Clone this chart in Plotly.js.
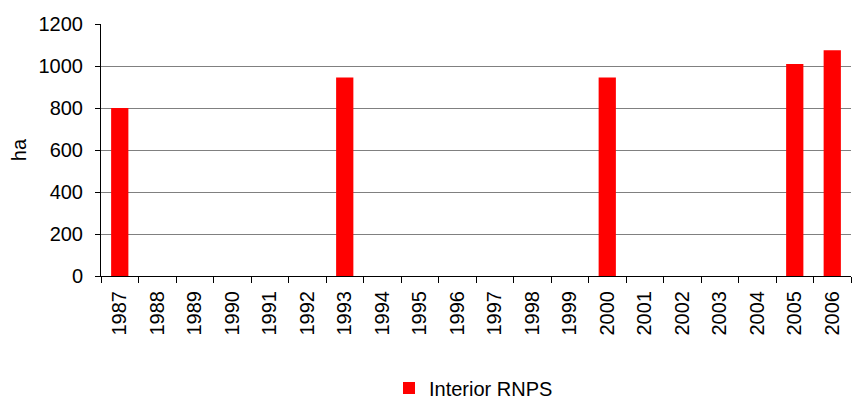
<!DOCTYPE html>
<html>
<head>
<meta charset="utf-8">
<script src="https://cdn.plot.ly/plotly-3.0.1.min.js"></script>
<style>html,body{margin:0;padding:0;background:#fff;}#chart{width:855px;height:400px;}</style>
</head>
<body>
<div id="chart"></div>
<script>
const years = ["1987","1988","1989","1990","1991","1992","1993","1994","1995","1996","1997","1998","1999","2000","2001","2002","2003","2004","2005","2006"];
const interiorRNPS = [800, null, null, null, null, null, 945, null, null, null, null, null, null, 945, null, null, null, null, 1010, 1075];
const yTicks = [0, 200, 400, 600, 800, 1000, 1200];
const seriesName = "Interior RNPS";

const trace = {
  type: "bar",
  x: years,
  y: interiorRNPS,
  name: seriesName,
  marker: {color: "#FF0000", line: {width: 0}},
  width: 0.46,
  showlegend: true
};

const layout = {
  width: 855,
  height: 400,
  margin: {l: 101, r: 4, t: 24, b: 124, autoexpand: false},
  paper_bgcolor: "#ffffff",
  plot_bgcolor: "#ffffff",
  font: {family: "Liberation Sans, Arial, sans-serif", size: 20, color: "#000000"},
  showlegend: true,
  legend: {
    orientation: "h",
    x: (389 - 101) / 750, xanchor: "left",
    y: -0.444, yanchor: "middle",
    font: {size: 20},
    bgcolor: "rgba(0,0,0,0)"
  },
  xaxis: {
    type: "category",
    automargin: false,
    tickangle: -90,
    ticks: "outside",
    tickson: "boundaries",
    ticklen: 6,
    tickcolor: "#000000",
    showline: true,
    linecolor: "#000000",
    linewidth: 1,
    showgrid: false,
    ticklabelstandoff: 6,
    tickfont: {size: 20}
  },
  yaxis: {
    automargin: false,
    range: [0, 1200],
    tickvals: yTicks,
    ticktext: yTicks.map(String),
    ticks: "outside",
    ticklen: 5,
    tickcolor: "#000000",
    showline: true,
    linecolor: "#000000",
    linewidth: 1,
    showgrid: true,
    gridcolor: "#808080",
    gridwidth: 1,
    zeroline: false,
    ticklabelstandoff: 8,
    tickfont: {size: 20},
    title: {text: "ha", font: {size: 20}, standoff: 6}
  },
  bargap: 0.54
};

Plotly.newPlot("chart", [trace], layout, {displayModeBar: false, staticPlot: true});
</script>
</body>
</html>
